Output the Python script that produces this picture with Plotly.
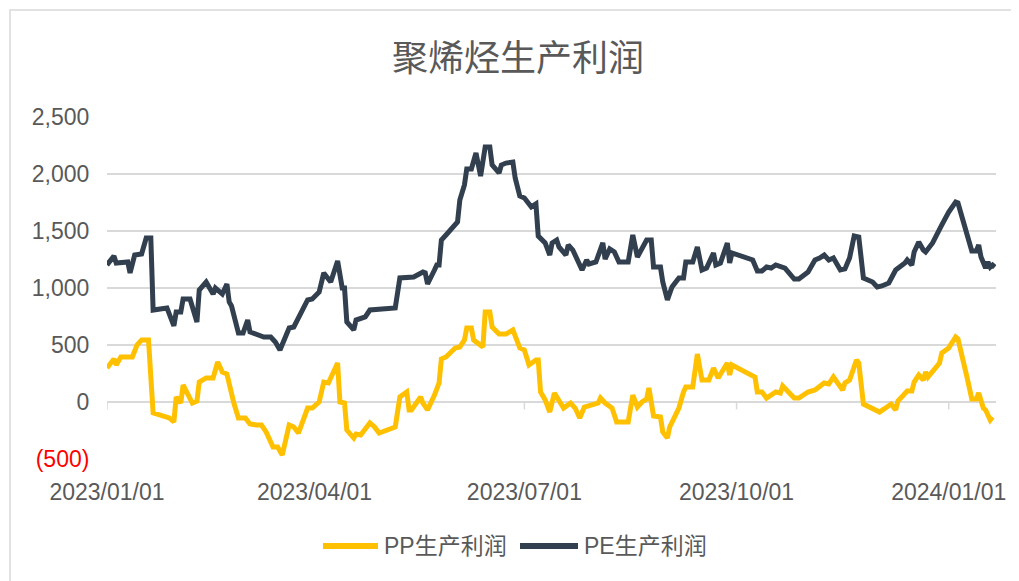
import plotly.graph_objects as go

# ---------------- data ----------------
pe_dates = [
    "2023-01-01", "2023-01-04", "2023-01-05", "2023-01-10", "2023-01-11", "2023-01-13", "2023-01-16",
    "2023-01-18", "2023-01-20", "2023-01-21", "2023-01-27", "2023-01-30", "2023-01-31", "2023-02-02",
    "2023-02-03", "2023-02-06", "2023-02-09", "2023-02-10", "2023-02-13", "2023-02-16", "2023-02-17",
    "2023-02-20", "2023-02-22", "2023-02-23", "2023-02-24", "2023-02-27", "2023-03-01", "2023-03-03",
    "2023-03-04", "2023-03-05", "2023-03-08", "2023-03-10", "2023-03-13", "2023-03-15", "2023-03-17",
    "2023-03-21", "2023-03-23", "2023-03-29", "2023-03-31", "2023-04-03", "2023-04-05", "2023-04-08",
    "2023-04-11", "2023-04-13", "2023-04-14", "2023-04-15", "2023-04-18", "2023-04-19", "2023-04-23",
    "2023-04-25", "2023-05-06", "2023-05-08", "2023-05-14", "2023-05-18", "2023-05-19", "2023-05-20",
    "2023-05-23", "2023-05-24", "2023-05-25", "2023-05-26", "2023-05-28", "2023-05-31", "2023-06-02",
    "2023-06-03", "2023-06-05", "2023-06-06", "2023-06-08", "2023-06-10", "2023-06-12", "2023-06-14",
    "2023-06-16", "2023-06-17", "2023-06-20", "2023-06-21", "2023-06-23", "2023-06-26", "2023-06-27",
    "2023-06-29", "2023-07-01", "2023-07-04", "2023-07-06", "2023-07-07", "2023-07-10", "2023-07-12",
    "2023-07-13", "2023-07-15", "2023-07-16", "2023-07-19", "2023-07-20", "2023-07-22", "2023-07-24",
    "2023-07-26", "2023-07-28", "2023-07-29", "2023-08-01", "2023-08-04", "2023-08-05", "2023-08-07",
    "2023-08-09", "2023-08-11", "2023-08-15", "2023-08-17", "2023-08-19", "2023-08-23", "2023-08-25",
    "2023-08-26", "2023-08-29", "2023-08-30", "2023-09-01", "2023-09-03", "2023-09-06", "2023-09-08",
    "2023-09-09", "2023-09-12", "2023-09-14", "2023-09-16", "2023-09-18", "2023-09-21", "2023-09-22",
    "2023-09-24", "2023-09-27", "2023-09-28", "2023-09-29", "2023-10-08", "2023-10-10", "2023-10-12",
    "2023-10-14", "2023-10-16", "2023-10-18", "2023-10-22", "2023-10-26", "2023-10-28", "2023-11-01",
    "2023-11-04", "2023-11-06", "2023-11-08", "2023-11-10", "2023-11-12", "2023-11-15", "2023-11-17",
    "2023-11-19", "2023-11-21", "2023-11-23", "2023-11-25", "2023-11-29", "2023-12-01", "2023-12-03",
    "2023-12-06", "2023-12-09", "2023-12-11", "2023-12-13", "2023-12-14", "2023-12-16", "2023-12-17",
    "2023-12-19", "2023-12-21", "2023-12-22", "2023-12-25", "2023-12-27", "2023-12-29", "2024-01-01",
    "2024-01-04", "2024-01-05", "2024-01-08", "2024-01-09", "2024-01-11", "2024-01-13", "2024-01-14",
    "2024-01-15", "2024-01-17", "2024-01-18", "2024-01-19", "2024-01-20", "2024-01-21",
]
pe_values = [
    1202, 1281, 1219, 1228, 1132, 1289, 1298,
    1439, 1439, 807, 825, 667, 789, 789,
    904, 904, 702, 982, 1053, 947, 1000,
    947, 1035, 877, 842, 605, 605, 719,
    614, 605, 588, 570, 570, 526, 456,
    649, 658, 895, 904, 965, 1132, 1053,
    1237, 1000, 1000, 702, 632, 719, 746,
    807, 825, 1088, 1096, 1140, 1132, 1035,
    1158, 1202, 1202, 1421, 1465, 1535, 1579,
    1772, 1904, 2044, 2044, 2184, 1982, 2237,
    2237, 2079, 2009, 2079, 2096, 2105, 1965,
    1807, 1789, 1711, 1737, 1456, 1395, 1289,
    1395, 1421, 1360, 1289, 1377, 1333, 1246,
    1158, 1246, 1211, 1228, 1395, 1254, 1342,
    1316, 1228, 1228, 1465, 1272, 1421, 1421,
    1184, 1184, 1053, 895, 1009, 1088, 1088,
    1228, 1228, 1360, 1158, 1175, 1307, 1202,
    1219, 1395, 1219, 1307, 1246, 1149, 1149,
    1184, 1175, 1202, 1175, 1079, 1079, 1140,
    1246, 1263, 1289, 1246, 1263, 1158, 1167,
    1263, 1456, 1447, 1088, 1053, 1009, 1018,
    1044, 1158, 1184, 1219, 1246, 1202, 1316,
    1404, 1333, 1316, 1395, 1482, 1553, 1667,
    1754, 1746, 1553, 1465, 1325, 1325, 1377,
    1272, 1175, 1228, 1184, 1202, 1184,
]

pp_dates = [
    "2023-01-01", "2023-01-04", "2023-01-05", "2023-01-07", "2023-01-12", "2023-01-14", "2023-01-16",
    "2023-01-19", "2023-01-21", "2023-01-28", "2023-01-30", "2023-01-31", "2023-02-02", "2023-02-03",
    "2023-02-07", "2023-02-09", "2023-02-10", "2023-02-13", "2023-02-16", "2023-02-18", "2023-02-20",
    "2023-02-22", "2023-02-25", "2023-02-27", "2023-03-02", "2023-03-04", "2023-03-07", "2023-03-09",
    "2023-03-11", "2023-03-14", "2023-03-16", "2023-03-18", "2023-03-21", "2023-03-23", "2023-03-25",
    "2023-03-29", "2023-03-31", "2023-04-03", "2023-04-05", "2023-04-07", "2023-04-11", "2023-04-12",
    "2023-04-14", "2023-04-15", "2023-04-18", "2023-04-19", "2023-04-21", "2023-04-23", "2023-04-25",
    "2023-04-27", "2023-04-29", "2023-05-06", "2023-05-08", "2023-05-11", "2023-05-12", "2023-05-13",
    "2023-05-17", "2023-05-18", "2023-05-20", "2023-05-23", "2023-05-25", "2023-05-26", "2023-05-28",
    "2023-06-01", "2023-06-03", "2023-06-05", "2023-06-06", "2023-06-08", "2023-06-09", "2023-06-13",
    "2023-06-14", "2023-06-16", "2023-06-17", "2023-06-20", "2023-06-23", "2023-06-26", "2023-06-28",
    "2023-06-29", "2023-07-01", "2023-07-03", "2023-07-06", "2023-07-07", "2023-07-08", "2023-07-10",
    "2023-07-12", "2023-07-14", "2023-07-18", "2023-07-21", "2023-07-23", "2023-07-25", "2023-07-27",
    "2023-07-31", "2023-08-02", "2023-08-03", "2023-08-05", "2023-08-08", "2023-08-10", "2023-08-15",
    "2023-08-17", "2023-08-19", "2023-08-21", "2023-08-23", "2023-08-24", "2023-08-26", "2023-08-29",
    "2023-08-30", "2023-09-01", "2023-09-02", "2023-09-05", "2023-09-06", "2023-09-08", "2023-09-09",
    "2023-09-12", "2023-09-14", "2023-09-16", "2023-09-19", "2023-09-21", "2023-09-23", "2023-09-27",
    "2023-09-28", "2023-09-29", "2023-10-09", "2023-10-10", "2023-10-12", "2023-10-14", "2023-10-18",
    "2023-10-20", "2023-10-21", "2023-10-26", "2023-10-28", "2023-11-01", "2023-11-04", "2023-11-08",
    "2023-11-10", "2023-11-12", "2023-11-16", "2023-11-17", "2023-11-19", "2023-11-22", "2023-11-23",
    "2023-11-25", "2023-11-28", "2023-11-30", "2023-12-02", "2023-12-04", "2023-12-07", "2023-12-09",
    "2023-12-10", "2023-12-14", "2023-12-16", "2023-12-17", "2023-12-19", "2023-12-21", "2023-12-22",
    "2023-12-23", "2023-12-25", "2023-12-28", "2023-12-29", "2024-01-01", "2024-01-04", "2024-01-05",
    "2024-01-09", "2024-01-11", "2024-01-13", "2024-01-14", "2024-01-16", "2024-01-17", "2024-01-19",
    "2024-01-20",
]
pp_values = [
    298, 377, 325, 395, 395, 500, 544,
    544, -96, -140, -175, 44, -9, 149,
    -9, 9, 175, 211, 211, 351, 263,
    246, -9, -140, -140, -193, -202, -202,
    -263, -395, -395, -465, -202, -219, -272,
    -53, -53, 0, 175, 167, 342, 0,
    -9, -246, -316, -281, -289, -237, -184,
    -219, -272, -219, 44, 88, -70, -70,
    44, -9, -70, 61, 167, 377, 395,
    474, 482, 544, 649, 649, 544, 482,
    789, 789, 658, 596, 596, 632, 526,
    474, 456, 325, 368, 368, 88, 18,
    -88, 79, -53, -9, -53, -140, -44,
    -18, -9, 35, -9, -53, -175, -175,
    61, -44, 0, 26, 123, -123, -132,
    -263, -316, -219, -88, -53, 88, 132,
    132, 421, 193, 193, 298, 211, 342,
    237, 325, 219, 88, 88, 35, 88,
    79, 140, 35, 35, 88, 105, 167,
    158, 219, 105, 167, 193, 368, 342,
    -18, -44, -70, -88, -61, -18, -70,
    9, 96, 96, 175, 237, 193, 263,
    219, 263, 342, 430, 474, 570, 553,
    211, 26, 26, 79, -53, -70, -158,
    -132,
]

series_names = ["PP生产利润", "PE生产利润"]
title_text = "聚烯烃生产利润"

y_tick_vals = [-500, 0, 500, 1000, 1500, 2000, 2500]
y_tick_text = ['<span style="color:#FF0000">(500)</span>', "0", "500", "1,000", "1,500", "2,000", "2,500"]
x_tick_vals = ["2023-01-01", "2023-04-01", "2023-07-01", "2023-10-01", "2024-01-01"]
x_tick_text = ["2023/01/01", "2023/04/01", "2023/07/01", "2023/10/01", "2024/01/01"]

# ---------------- style ----------------
PP_COLOR = "#FFC000"
PE_COLOR = "#323F4F"
GRID = "#D9D9D9"
TXT = "#595959"
LATIN = "Liberation Sans, Arial, Noto Sans CJK SC, sans-serif"
CJK = "Noto Sans CJK SC, Liberation Sans, sans-serif"

# the page body adds an 8px offset; the figure is sized so the plot area lands at
# screen x 107..996, y 117..459
OFF = 8
W, H = 1019 - OFF, 581 - OFF
L, R, T, B = 107 - OFF, 23, 117 - OFF, 122
PW, PH = W - L - R, H - T - B


def px(sx):
    return (sx - OFF - L) / PW


def py(sy):
    return (H - B - (sy - OFF)) / PH


fig = go.Figure()
fig.add_trace(go.Scatter(x=pp_dates, y=pp_values, name=series_names[0], mode="lines",
                         line=dict(color=PP_COLOR, width=5, shape="linear"),
                         hoverinfo="skip", showlegend=False))
fig.add_trace(go.Scatter(x=pe_dates, y=pe_values, name=series_names[1], mode="lines",
                         line=dict(color=PE_COLOR, width=5, shape="linear"),
                         hoverinfo="skip", showlegend=False))

shapes = []
# outer chart border
shapes.append(dict(type="rect", xref="paper", yref="paper",
                   x0=px(10), x1=px(1060), y0=py(640), y1=py(10),
                   line=dict(color=GRID, width=1.5), fillcolor="rgba(0,0,0,0)", layer="below"))
# tick marks hanging below the zero line
for d in x_tick_vals:
    shapes.append(dict(type="line", xref="x", yref="y", x0=d, x1=d, y0=0, y1=-65,
                       line=dict(color=GRID, width=1.5), layer="below"))
# custom legend
for (xa, xb, col) in [(323, 378, PP_COLOR), (520, 578, PE_COLOR)]:
    shapes.append(dict(type="line", xref="paper", yref="paper", x0=px(xa), x1=px(xb),
                       y0=py(546), y1=py(546), line=dict(color=col, width=6)))

annotations = [
    dict(text=series_names[0], xref="paper", yref="paper", x=px(382), y=py(546),
         xanchor="left", yanchor="middle", showarrow=False,
         font=dict(family=LATIN, size=23, color=TXT)),
    dict(text=series_names[1], xref="paper", yref="paper", x=px(582), y=py(546),
         xanchor="left", yanchor="middle", showarrow=False,
         font=dict(family=LATIN, size=23, color=TXT)),
    dict(text=title_text, xref="paper", yref="paper", x=px(518), y=py(55),
         xanchor="center", yanchor="middle", showarrow=False,
         font=dict(family=CJK, size=36, color=TXT)),
]

fig.update_layout(
    width=W, height=H,
    margin=dict(l=L, r=R, t=T, b=B, autoexpand=False),
    paper_bgcolor="white", plot_bgcolor="white",
    shapes=shapes, annotations=annotations,
    showlegend=False,
    xaxis=dict(type="date", range=["2023-01-01", "2024-01-21 12:00"],
               tickvals=x_tick_vals, ticktext=x_tick_text,
               showgrid=False, zeroline=False, showline=False,
               ticks="outside", ticklen=12, tickcolor="rgba(0,0,0,0)",
               tickfont=dict(family=LATIN, size=23, color=TXT), automargin=False),
    yaxis=dict(range=[-500, 2500], tickvals=y_tick_vals, ticktext=y_tick_text,
               showgrid=True, gridcolor=GRID, gridwidth=1.5, zeroline=False, showline=False,
               ticks="outside", ticklen=12, tickcolor="rgba(0,0,0,0)",
               tickfont=dict(family=LATIN, size=23, color=TXT), automargin=False),
)

fig.write_html("out.html")
